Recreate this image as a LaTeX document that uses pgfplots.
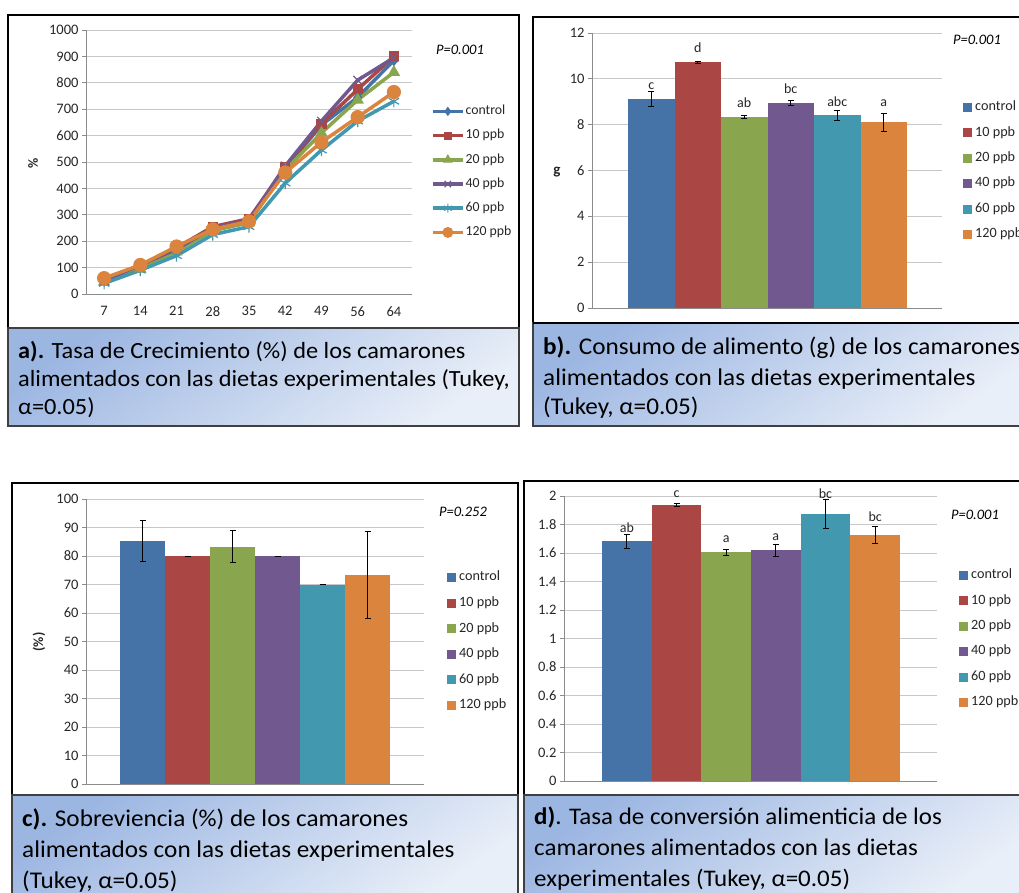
\documentclass[border=0pt]{standalone}
\usepackage{pgfplots}
\pgfplotsset{compat=1.18}
\usepackage{fontspec}
\setmainfont{Carlito}
\newfontfamily\capfam[FakeStretch=1.05]{Carlito}
\definecolor{cA}{HTML}{4572A7}
\definecolor{cB}{HTML}{AA4643}
\definecolor{cC}{HTML}{89A54E}
\definecolor{cD}{HTML}{71588F}
\definecolor{cE}{HTML}{4198AF}
\definecolor{cF}{HTML}{DB843D}
\definecolor{gridc}{HTML}{C8C8C8}
\definecolor{axc}{HTML}{8C8C8C}
\definecolor{tickc}{HTML}{262626}
\definecolor{capTop}{HTML}{9CB6E2}
\definecolor{capBot}{HTML}{E9EFF8}
\definecolor{capEdge}{HTML}{404040}
\pgfplotsset{
  excel/.style={
    scale only axis, clip=false,
    axis x line*=bottom, axis y line*=left,
    axis line style={axc, line width=0.8pt},
    ymajorgrids, grid style={gridc, line width=0.8pt},
    tick align=outside, major tick length=4pt,
    ytick style={axc, line width=0.8pt}, xtick style={draw=none},
    tick label style={font=\fontsize{14.5}{16}\selectfont, text=tickc},
    /pgf/number format/assume math mode=true,
    /pgf/number format/1000 sep={},
    legend cell align=left,
  },
  barleg/.style={
    legend image code/.code={\fill[##1] (0pt,-4.5pt) rectangle (9pt,4.5pt);},
    legend style={draw=none, fill=none, inner sep=0pt, anchor=north west,
      font=\fontsize{14.2}{16}\selectfont, text=tickc,
      nodes={inner sep=0pt, text height=9.5pt, text depth=3pt},
      row sep=12.9pt, column sep=3pt},
  },
  bar/.style={ybar, bar width=1, bar shift=0pt, draw=none, fill=#1,
    error bars/.cd, y dir=both, y explicit,
    error bar style={black, line width=0.7pt},
    error mark options={rotate=90, black, mark size=3pt, line width=0.7pt}},
  letters/.style={forget plot, draw=none, mark=none, nodes near coords,
    point meta=explicit symbolic,
    nodes near coords style={anchor=base, inner sep=0pt,
      font=\fontsize{14}{16}\selectfont, text=tickc}},
  ln/.style={color=#1, line width=3.5pt, mark options={solid, fill=#1, draw=#1, line width=1.2pt}},
}
\newcommand{\capfont}[2]{\capfam\fontsize{#1}{#2}\selectfont}
\begin{document}
\begin{tikzpicture}
\useasboundingbox (0pt,0pt) rectangle (1019pt,-893pt);
% frames
\draw[black, line width=1.5pt] (8pt,-15pt) rectangle (519pt,-328pt);
\draw[black, line width=1.8pt] (533pt,-17pt) rectangle (1030pt,-323pt);
\draw[black, line width=1.5pt] (12pt,-483pt) rectangle (518pt,-795pt);
\draw[black, line width=1.8pt] (524pt,-481pt) rectangle (1030pt,-795pt);

% ---------------- panel a
\begin{axis}[excel, at={(86pt,-294pt)}, anchor=south west,
  width=326pt, height=264pt,
  xmin=-0.5, xmax=8.5, ymin=0, ymax=1000,
  xtick={0,...,8}, xticklabels={7,14,21,28,35,42,49,56,64},
  xticklabel style={yshift=-5pt},
  ytick={0,100,...,1000},
  legend image code/.code={\draw[#1, every mark/.append style={scale=0.75}, mark repeat=2, mark phase=2] plot coordinates {(0pt,0pt) (15pt,0pt) (30pt,0pt)};},
  legend style={at={(1.058,0.716)}, anchor=north west, draw=none, fill=none, inner sep=0pt,
    font=\fontsize{13.8}{16}\selectfont, text=tickc,
    nodes={inner sep=0pt, text height=9.5pt, text depth=3pt},
    row sep=11.7pt, column sep=1pt},
]
\addplot[ln=cA, mark=diamond*, mark size=5pt] coordinates {(0,50)(1,100)(2,170)(3,250)(4,280)(5,475)(6,640)(7,745)(8,885)};
\addlegendentry{control}
\addplot[ln=cB, mark=square*, mark size=4.5pt] coordinates {(0,55)(1,105)(2,175)(3,255)(4,285)(5,480)(6,645)(7,775)(8,900)};
\addlegendentry{10 ppb}
\addplot[ln=cC, mark=triangle*, mark size=6pt] coordinates {(0,45)(1,95)(2,160)(3,240)(4,270)(5,470)(6,610)(7,735)(8,840)};
\addlegendentry{20 ppb}
\addplot[ln=cD, mark=x, mark size=6pt] coordinates {(0,50)(1,110)(2,170)(3,250)(4,280)(5,485)(6,655)(7,810)(8,895)};
\addlegendentry{40 ppb}
\addplot[ln=cE, mark=asterisk, mark size=6pt] coordinates {(0,40)(1,90)(2,145)(3,225)(4,255)(5,420)(6,545)(7,655)(8,730)};
\addlegendentry{60 ppb}
\addplot[ln=cF, mark=*, mark size=6.5pt] coordinates {(0,60)(1,110)(2,180)(3,245)(4,275)(5,460)(6,575)(7,670)(8,765)};
\addlegendentry{120 ppb}
\end{axis}
\node[rotate=90, font=\fontsize{14}{16}\selectfont\bfseries, text=tickc] at (33pt,-163pt) {\%};
\node[font=\fontsize{14.5}{16}\selectfont\itshape, text=black] at (460pt,-50pt) {P=0.001};

% ---------------- panel b
\begin{axis}[excel, barleg, at={(592pt,-308pt)}, anchor=south west,
  width=350pt, height=275pt,
  xmin=-0.274, xmax=7.253, ymin=0, ymax=12, xtick=\empty,
  ytick={0,2,...,12},
  legend style={at={(1.06,0.7527)}},
]
\addplot[bar=cA] coordinates {(1,9.13) +- (0,0.31)}; \addlegendentry{control}
\addplot[bar=cB] coordinates {(2,10.72) +- (0,0.03)}; \addlegendentry{10 ppb}
\addplot[bar=cC] coordinates {(3,8.33) +- (0,0.07)}; \addlegendentry{20 ppb}
\addplot[bar=cD] coordinates {(4,8.95) +- (0,0.09)}; \addlegendentry{40 ppb}
\addplot[bar=cE] coordinates {(5,8.42) +- (0,0.22)}; \addlegendentry{60 ppb}
\addplot[bar=cF] coordinates {(6,8.10) +- (0,0.41)}; \addlegendentry{120 ppb}
\addplot[letters] coordinates {(1,9.55)[c] (2,11.13)[d] (3,8.77)[ab] (4,9.38)[bc] (5,8.81)[abc] (6,8.81)[a]};
\end{axis}
\node[font=\fontsize{15}{16}\selectfont\bfseries, text=tickc] at (557pt,-172pt) {g};
\node[font=\fontsize{14.5}{16}\selectfont\itshape, text=black] at (977pt,-40pt) {P=0.001};

% ---------------- panel c
\begin{axis}[excel, barleg, at={(86pt,-784pt)}, anchor=south west,
  width=338pt, height=285pt,
  xmin=-0.2556, xmax=7.2556, ymin=0, ymax=100, xtick=\empty,
  ytick={0,10,...,100},
  legend style={at={(1.068,0.747)}, row sep=13.1pt},
]
\addplot[bar=cA] coordinates {(1,85.3) +- (0,7.1)}; \addlegendentry{control}
\addplot[bar=cB] coordinates {(2,80) +- (0,0)}; \addlegendentry{10 ppb}
\addplot[bar=cC] coordinates {(3,83.3) +- (0,5.7)}; \addlegendentry{20 ppb}
\addplot[bar=cD] coordinates {(4,80) +- (0,0)}; \addlegendentry{40 ppb}
\addplot[bar=cE] coordinates {(5,70) +- (0,0)}; \addlegendentry{60 ppb}
\addplot[bar=cF] coordinates {(6,73.3) +- (0,15.2)}; \addlegendentry{120 ppb}
\end{axis}
\node[rotate=90, font=\fontsize{14}{16}\selectfont\bfseries, text=tickc] at (39pt,-642pt) {(\%)};
\node[font=\fontsize{14.5}{16}\selectfont\itshape, text=black] at (463pt,-512pt) {P=0.252};

% ---------------- panel d
\begin{axis}[excel, barleg, at={(564pt,-781pt)}, anchor=south west,
  width=373pt, height=285pt,
  xmin=-0.265, xmax=7.245, ymin=0, ymax=2, xtick=\empty,
  ytick={0,0.2,...,2.01},
  legend style={at={(1.059,0.744)}},
]
\addplot[bar=cA] coordinates {(1,1.682) +- (0,0.05)}; \addlegendentry{control}
\addplot[bar=cB] coordinates {(2,1.935) +- (0,0.01)}; \addlegendentry{10 ppb}
\addplot[bar=cC] coordinates {(3,1.607) +- (0,0.02)}; \addlegendentry{20 ppb}
\addplot[bar=cD] coordinates {(4,1.621) +- (0,0.043)}; \addlegendentry{40 ppb}
\addplot[bar=cE] coordinates {(5,1.874) +- (0,0.10)}; \addlegendentry{60 ppb}
\addplot[bar=cF] coordinates {(6,1.729) +- (0,0.06)}; \addlegendentry{120 ppb}
\addplot[letters] coordinates {(1,1.747)[ab] (2,1.993)[c] (3,1.677)[a] (4,1.691)[a] (5,1.979)[bc] (6,1.818)[bc]};
\end{axis}
\node[font=\fontsize{14.5}{16}\selectfont\itshape, text=black] at (975pt,-515pt) {P=0.001};

% ---------------- caption boxes
\path[top color=capTop, bottom color=capBot, shading angle=35, draw=capEdge, line width=1.2pt] (8pt,-328pt) rectangle (519pt,-426pt);
\path[top color=capTop, bottom color=capBot, shading angle=35, draw=capEdge, line width=1.2pt] (533pt,-323pt) rectangle (1030pt,-426pt);
\draw[black, line width=2.2pt] (533pt,-323pt) -- (1030pt,-323pt);
\path[top color=capTop, bottom color=capBot, shading angle=35, draw=capEdge, line width=1.2pt] (12pt,-795pt) rectangle (518pt,-900pt);
\path[top color=capTop, bottom color=capBot, shading angle=35, draw=capEdge, line width=1.2pt] (524pt,-795pt) rectangle (1030pt,-900pt);

\begin{scope}[every node/.style={anchor=base west, inner sep=0pt, text=black}]
\node[font=\capfont{23.2}{26}] at (18pt,-358pt) {\textbf{a).} Tasa de Crecimiento (\%) de los camarones};
\node[font=\capfont{23.2}{26}] at (18pt,-386pt) {alimentados con las dietas experimentales (Tukey,};
\node[font=\capfont{23.2}{26}] at (18pt,-414pt) {α=0.05)};
\node[font=\capfont{24}{26}] at (543pt,-354pt) {\textbf{b).} Consumo de alimento (g) de los camarones};
\node[font=\capfont{24}{26}] at (543pt,-385pt) {alimentados con las dietas experimentales};
\node[font=\capfont{24}{26}] at (543pt,-414pt) {(Tukey, α=0.05)};
\node[font=\capfont{24}{26}] at (22pt,-826pt) {\textbf{c).} Sobreviencia (\%) de los camarones};
\node[font=\capfont{24}{26}] at (22pt,-857pt) {alimentados con las dietas experimentales};
\node[font=\capfont{24}{26}] at (22pt,-888pt) {(Tukey, α=0.05)};
\node[font=\capfont{23.8}{26}] at (534pt,-824pt) {\textbf{d)}. Tasa de conversión alimenticia de los};
\node[font=\capfont{23.8}{26}] at (534pt,-855pt) {camarones alimentados con las dietas};
\node[font=\capfont{23.8}{26}] at (534pt,-886pt) {experimentales (Tukey, α=0.05)};
\end{scope}
\end{tikzpicture}
\end{document}
